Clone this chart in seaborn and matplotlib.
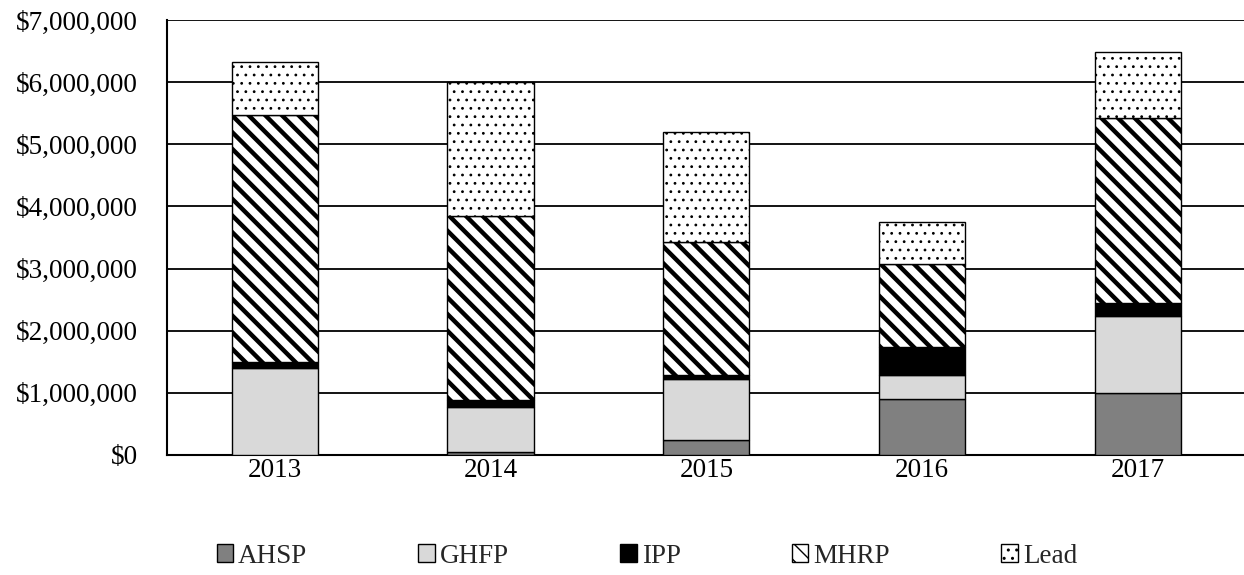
import matplotlib
matplotlib.use("Agg")
import matplotlib.pyplot as plt
from matplotlib.patches import Patch
from matplotlib.ticker import FuncFormatter, MultipleLocator
import numpy as np
import pandas as pd
import seaborn as sns

# Funding by program and year (dollars)
years = ["2013", "2014", "2015", "2016", "2017"]
ahsp = [0, 50_000, 240_000, 900_000, 990_000]
ghfp = [1_395_000, 730_000, 980_000, 390_000, 1_240_000]
ipp = [105_000, 105_000, 70_000, 440_000, 210_000]
mhrp = [3_970_000, 2_965_000, 2_140_000, 1_340_000, 2_990_000]
lead = [860_000, 2_160_000, 1_770_000, 680_000, 1_060_000]

series_names = ["AHSP", "GHFP", "IPP", "MHRP", "Lead"]

df = pd.DataFrame({"Year": years, "AHSP": ahsp, "GHFP": ghfp,
                   "IPP": ipp, "MHRP": mhrp, "Lead": lead})

sns.set_theme(style="white")
plt.rcParams["font.family"] = ["Liberation Serif", "DejaVu Serif"]
plt.rcParams["hatch.color"] = "black"

styles = {
    "AHSP": dict(color="#808080", hatch=None, hlw=1.0),
    "GHFP": dict(color="#d9d9d9", hatch=None, hlw=1.0),
    "IPP": dict(color="#000000", hatch=None, hlw=1.0),
    "MHRP": dict(color="#ffffff", hatch="\\\\", hlw=3.2),
    "Lead": dict(color="#ffffff", hatch="..", hlw=0.8),
}

fig = plt.figure(figsize=(12.44, 5.75), dpi=100)
ax = fig.add_axes([0.1342, 0.2087, 0.8672, 0.7565])

bottom = np.zeros(len(years))
handles = []
for name in series_names:
    st = styles[name]
    with plt.rc_context({"hatch.linewidth": st["hlw"]}):
        sns.barplot(data=df, x="Year", y=name, bottom=bottom, ax=ax,
                    color=st["color"], hatch=st["hatch"], edgecolor="black",
                    linewidth=1.0, width=0.4, saturation=1, zorder=3)
        handles.append(Patch(facecolor=st["color"], edgecolor="black",
                             hatch=st["hatch"], linewidth=1.0, label=name))
    bottom = bottom + df[name].to_numpy()

ax.set_ylim(0, 7_000_000)
ax.set_xlim(-0.5, 4.5)
ax.yaxis.set_major_locator(MultipleLocator(1_000_000))
ax.yaxis.set_major_formatter(FuncFormatter(lambda v, p: f"${v:,.0f}"))
ax.grid(axis="y", color="black", linewidth=1.3, zorder=0)
ax.set_axisbelow(True)
ax.set_xlabel("")
ax.set_ylabel("")

for side in ["top", "right"]:
    ax.spines[side].set_visible(False)
for side in ["left", "bottom"]:
    ax.spines[side].set_color("black")
    ax.spines[side].set_linewidth(1.5)

ax.tick_params(axis="y", length=0, pad=21, labelsize=19.5, colors="black")
ax.tick_params(axis="x", length=0, pad=2, labelsize=19.5, colors="black")

fig.legend(handles=handles, loc="center", bbox_to_anchor=(0.52, 0.033),
           ncol=5, frameon=False, fontsize=19.5, handlelength=0.6,
           handleheight=0.6, handletextpad=0.2, columnspacing=4.1)

fig.savefig("out.png", dpi=100)
